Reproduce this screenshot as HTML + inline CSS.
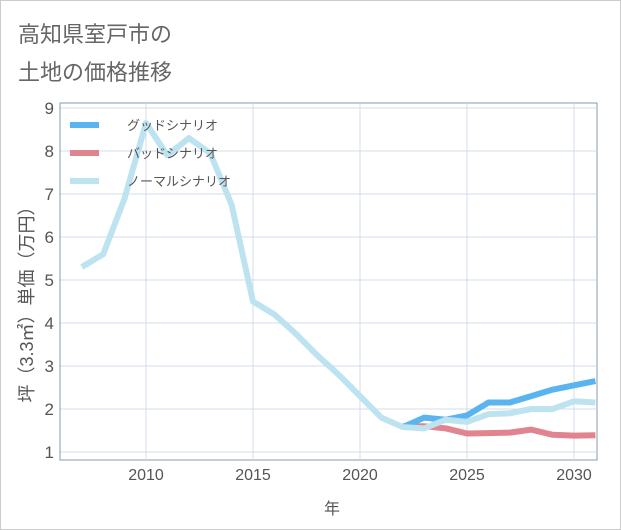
<!DOCTYPE html>
<html><head><meta charset="utf-8"><style>
body{margin:0;background:#fff;}
#wrap{position:relative;width:619px;height:528px;border:1px solid #ccc;background:#fff;font-family:"Liberation Sans","Noto Sans CJK JP",sans-serif;}
.title{position:absolute;left:17px;font-size:22px;color:#666;}
</style></head><body>
<div id="wrap">
<div class="title" style="top:16px">高知県室戸市の</div>
<div class="title" style="top:54px">土地の価格推移</div>
<svg id="chart" width="621" height="530" style="position:absolute;left:-1px;top:-1px"></svg>
</div>
<script>
const years=[2007,2008,2009,2010,2011,2012,2013,2014,2015,2016,2017,2018,2019,2020,2021,2022,2023,2024,2025,2026,2027,2028,2029,2030,2031];
const normalVals=[5.3,5.6,6.9,8.65,7.9,8.3,7.95,6.75,4.5,4.2,3.75,3.25,2.8,2.3,1.8,1.58,1.55,1.75,1.7,1.88,1.9,2.0,2.0,2.18,2.15];
const goodYears=[2022,2023,2024,2025,2026,2027,2028,2029,2030,2031];
const goodVals=[1.58,1.8,1.75,1.85,2.15,2.15,2.3,2.45,2.55,2.65];
const badVals=[1.6,1.6,1.55,1.43,1.44,1.45,1.52,1.4,1.38,1.39];
const xTicks=[2010,2015,2020,2025,2030];
const yTicks=[1,2,3,4,5,6,7,8,9];
const NS="http://www.w3.org/2000/svg";
const svg=document.getElementById('chart');
const L=60,R=597,T=103,B=460;
const x=v=>146+(v-2010)*21.4;
const y=v=>452-(v-1)*43;
function mk(t,a){const e=document.createElementNS(NS,t);for(const k in a)e.setAttribute(k,a[k]);svg.appendChild(e);return e;}
let bg=mk('rect',{x:L,y:T,width:R-L,height:B-T,fill:'#fff',stroke:'#8899aa','stroke-width':1});


xTicks.forEach(t=>{
 let g=mk('line',{x1:x(t),x2:x(t),y1:T,y2:B,stroke:'#d0dce8','stroke-width':1});
 
 
 let tx=mk('text',{x:x(t),y:B+20,'text-anchor':'middle','font-size':16,fill:'#555'});
 tx.textContent=t;
 
 
});
yTicks.forEach(t=>{
 let g=mk('line',{x1:L,x2:R,y1:y(t),y2:y(t),stroke:'#d0dce8','stroke-width':1});
 
 
 let tx=mk('text',{x:L-6,y:y(t)+6,'text-anchor':'end','font-size':17,fill:'#555'});
 tx.textContent=t;
 
 
});
let ax=mk('line',{x1:L,x2:L,y1:T,y2:B,stroke:'#8899aa'});


let xt=mk('text',{x:332,y:514,'text-anchor':'middle','font-size':16,fill:'#555'});
xt.textContent='年';


let yt=mk('text',{x:0,y:0,'text-anchor':'middle','font-size':18,fill:'#555',transform:'translate(33,300) rotate(-90)'});
yt.textContent='坪（3.3㎡）単価（万円）';


const clip=mk('clipPath',{id:'c'});
const cr=document.createElementNS(NS,'rect');cr.setAttribute('x',L);cr.setAttribute('y',T);cr.setAttribute('width',R-L);cr.setAttribute('height',B-T);clip.appendChild(cr);
function line(xs,vs,color,name){
 let p=mk('polyline',{points:xs.map((v,i)=>x(v)+','+y(vs[i])).join(' '),fill:'none',stroke:color,'stroke-width':6,'stroke-linejoin':'round','clip-path':'url(#c)'});
 
 
}
line(goodYears,badVals,'#e0848f','bad-scenario-line');
line(goodYears,goodVals,'#5ab4f0','good-scenario-line');
line(years,normalVals,'#bde3f0','normal-scenario-line');
const legNames=['グッドシナリオ','バッドシナリオ','ノーマルシナリオ'];
const legColors=['#5ab4f0','#e0848f','#bde3f0'];
legNames.forEach((n,i)=>{
 let yy=125+i*28;
 let l=mk('line',{x1:70,x2:99,y1:yy,y2:yy,stroke:legColors[i],'stroke-width':6});
 
 
 let t=mk('text',{x:127,y:yy+5,'font-size':13,fill:'#555'});
 t.textContent=n;
 
 
});
</script>
</body></html>
